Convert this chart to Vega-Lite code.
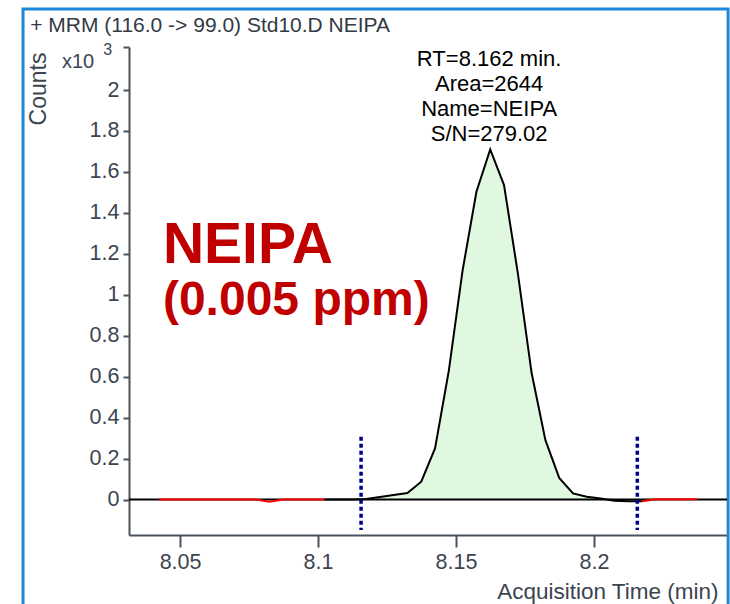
{
  "$schema": "https://vega.github.io/schema/vega-lite/v6.json",
  "width": 598,
  "height": 488,
  "autosize": {"type": "none"},
  "padding": {"left": 129, "top": 47, "right": 3, "bottom": 69},
  "background": "white",
  "config": {"view": {"stroke": null}, "font": "Liberation Sans", "axis": {"grid": false}},
  "datasets": {
    "signal": [
      {"t": 8.0424, "counts": 0, "trace": "noise1"},
      {"t": 8.0474, "counts": 0, "trace": "noise1"},
      {"t": 8.0524, "counts": 0, "trace": "noise1"},
      {"t": 8.0574, "counts": 0, "trace": "noise1"},
      {"t": 8.0624, "counts": 0, "trace": "noise1"},
      {"t": 8.0674, "counts": 0, "trace": "noise1"},
      {"t": 8.0724, "counts": 0, "trace": "noise1"},
      {"t": 8.0774, "counts": 0, "trace": "noise1"},
      {"t": 8.0824, "counts": -0.011, "trace": "noise1"},
      {"t": 8.0874, "counts": 0, "trace": "noise1"},
      {"t": 8.0924, "counts": 0, "trace": "noise1"},
      {"t": 8.0974, "counts": 0, "trace": "noise1"},
      {"t": 8.1024, "counts": 0, "trace": "noise1"},
      {"t": 8.1024, "counts": 0, "trace": "peak"},
      {"t": 8.1074, "counts": 0, "trace": "peak"},
      {"t": 8.1124, "counts": 0, "trace": "peak"},
      {"t": 8.1174, "counts": 0.003, "trace": "peak"},
      {"t": 8.1224, "counts": 0.012, "trace": "peak"},
      {"t": 8.1274, "counts": 0.022, "trace": "peak"},
      {"t": 8.1324, "counts": 0.032, "trace": "peak"},
      {"t": 8.1374, "counts": 0.087, "trace": "peak"},
      {"t": 8.1424, "counts": 0.25, "trace": "peak"},
      {"t": 8.1474, "counts": 0.63, "trace": "peak"},
      {"t": 8.1524, "counts": 1.12, "trace": "peak"},
      {"t": 8.1574, "counts": 1.503, "trace": "peak"},
      {"t": 8.1624, "counts": 1.71, "trace": "peak"},
      {"t": 8.1674, "counts": 1.536, "trace": "peak"},
      {"t": 8.1724, "counts": 1.106, "trace": "peak"},
      {"t": 8.1774, "counts": 0.618, "trace": "peak"},
      {"t": 8.1824, "counts": 0.29, "trace": "peak"},
      {"t": 8.1874, "counts": 0.106, "trace": "peak"},
      {"t": 8.1924, "counts": 0.03, "trace": "peak"},
      {"t": 8.1974, "counts": 0.014, "trace": "peak"},
      {"t": 8.2024, "counts": 0.005, "trace": "peak"},
      {"t": 8.2074, "counts": -0.006, "trace": "peak"},
      {"t": 8.2124, "counts": -0.008, "trace": "peak"},
      {"t": 8.2174, "counts": -0.008, "trace": "peak"},
      {"t": 8.2174, "counts": -0.008, "trace": "noise2"},
      {"t": 8.2224, "counts": 0.002, "trace": "noise2"},
      {"t": 8.2274, "counts": 0.002, "trace": "noise2"},
      {"t": 8.2324, "counts": 0.002, "trace": "noise2"},
      {"t": 8.2374, "counts": 0.002, "trace": "noise2"}
    ],
    "markers": [{"t": 8.1156}, {"t": 8.2157}],
    "peak": [{"rt": 8.162, "area": 2644, "name": "NEIPA", "sn": 279.02}]
  },
  "layer": [
    {
      "data": {"values": [{}]},
      "mark": {"type": "rect", "filled": false, "stroke": "#1E88D8", "strokeWidth": 3},
      "encoding": {
        "x": {"datum": 7.9931, "type": "quantitative", "scale": {"domain": [8.0315, 8.2482], "nice": false, "zero": false},
          "axis": {"values": [8.05, 8.1, 8.15, 8.2], "format": ".2~f", "title": "Acquisition Time (min)", "titleAnchor": "end", "titleAlign": "right", "titleX": 589, "titleY": 63, "titleBaseline": "alphabetic", "titleFontSize": 22.5, "titleFontWeight": "normal", "titleColor": "#3c4450", "labelFontSize": 21.5, "labelColor": "#3c4450", "labelPadding": 4, "tickSize": 12, "tickWidth": 2, "tickColor": "#4a525c", "domainColor": "#4a525c", "domainWidth": 2, "labelFlush": false}},
        "x2": {"datum": 8.2486},
        "y": {"datum": 2.3956, "type": "quantitative", "scale": {"domain": [-0.173, 2.21], "nice": false, "zero": false},
          "axis": {"values": [0, 0.2, 0.4, 0.6, 0.8, 1, 1.2, 1.4, 1.6, 1.8, 2, 2.21], "format": ".1~f", "labelExpr": "datum.value > 2.1 ? '' : datum.label", "title": "Counts", "titleAngle": 270, "titleAlign": "right", "titleBaseline": "middle", "titleX": -91, "titleY": 5, "titleFontSize": 23, "titleFontWeight": "normal", "titleColor": "#3c4450", "labelFontSize": 21.5, "labelColor": "#3c4450", "labelPadding": 4, "tickSize": 6, "tickWidth": 2, "tickColor": "#4a525c", "domainColor": "#4a525c", "domainWidth": 2}},
        "y2": {"datum": -0.8}
      }
    },
    {
      "data": {"values": [{}]},
      "mark": {"type": "text", "text": "+ MRM (116.0 -> 99.0) Std10.D NEIPA", "align": "left", "baseline": "alphabetic", "fontSize": 21, "color": "#333a44"},
      "encoding": {
        "x": {"datum": 7.9957, "type": "quantitative", "scale": {"domain": [8.0315, 8.2482], "nice": false, "zero": false}},
        "y": {"datum": 2.2833, "type": "quantitative", "scale": {"domain": [-0.173, 2.21], "nice": false, "zero": false}}
      }
    },
    {
      "data": {"name": "signal"},
      "transform": [{"filter": "datum.trace == 'peak' && datum.t >= 8.117 && datum.t <= 8.213"}],
      "mark": {"type": "area", "color": "#E0F8E0", "opacity": 1},
      "encoding": {
        "x": {"field": "t", "type": "quantitative", "scale": {"domain": [8.0315, 8.2482], "nice": false, "zero": false}},
        "y": {"field": "counts", "type": "quantitative", "scale": {"domain": [-0.173, 2.21], "nice": false, "zero": false}},
        "y2": {"datum": 0}
      }
    },
    {
      "data": {"values": [{}]},
      "mark": {"type": "rule", "color": "#000000", "strokeWidth": 2},
      "encoding": {
        "y": {"datum": 0, "type": "quantitative", "scale": {"domain": [-0.173, 2.21], "nice": false, "zero": false}}
      }
    },
    {
      "data": {"name": "signal"},
      "mark": {"type": "line", "strokeWidth": 2},
      "encoding": {
        "x": {"field": "t", "type": "quantitative", "scale": {"domain": [8.0315, 8.2482], "nice": false, "zero": false}},
        "y": {"field": "counts", "type": "quantitative", "scale": {"domain": [-0.173, 2.21], "nice": false, "zero": false}},
        "color": {"field": "trace", "type": "nominal", "scale": {"domain": ["noise1", "peak", "noise2"], "range": ["#FF0000", "#000000", "#FF0000"]}, "legend": null}
      }
    },
    {
      "data": {"name": "markers"},
      "mark": {"type": "rule", "color": "#00008B", "strokeWidth": 3.5, "strokeDash": [4, 3]},
      "encoding": {
        "x": {"field": "t", "type": "quantitative", "scale": {"domain": [8.0315, 8.2482], "nice": false, "zero": false}},
        "y": {"datum": 0.307, "type": "quantitative", "scale": {"domain": [-0.173, 2.21], "nice": false, "zero": false}},
        "y2": {"datum": -0.149}
      }
    },
    {
      "data": {"name": "peak"},
      "mark": {"type": "text", "text": ["RT=8.162 min.", "Area=2644", "Name=NEIPA", "S/N=279.02"], "align": "center", "baseline": "alphabetic", "fontSize": 22, "lineHeight": 25, "color": "#000000"},
      "encoding": {
        "x": {"field": "rt", "type": "quantitative", "scale": {"domain": [8.0315, 8.2482], "nice": false, "zero": false}},
        "y": {"datum": 2.119, "type": "quantitative", "scale": {"domain": [-0.173, 2.21], "nice": false, "zero": false}}
      }
    },
    {
      "data": {"name": "peak"},
      "mark": {"type": "text", "text": "NEIPA", "align": "left", "baseline": "alphabetic", "fontSize": 57, "fontWeight": "bold", "color": "#C00000"},
      "encoding": {
        "x": {"datum": 8.0438, "type": "quantitative", "scale": {"domain": [8.0315, 8.2482], "nice": false, "zero": false}},
        "y": {"datum": 1.155, "type": "quantitative", "scale": {"domain": [-0.173, 2.21], "nice": false, "zero": false}}
      }
    },
    {
      "data": {"name": "peak"},
      "mark": {"type": "text", "text": "(0.005 ppm)", "align": "left", "baseline": "alphabetic", "fontSize": 48, "fontWeight": "bold", "color": "#C00000"},
      "encoding": {
        "x": {"datum": 8.0438, "type": "quantitative", "scale": {"domain": [8.0315, 8.2482], "nice": false, "zero": false}},
        "y": {"datum": 0.9, "type": "quantitative", "scale": {"domain": [-0.173, 2.21], "nice": false, "zero": false}}
      }
    },
    {
      "data": {"values": [{}]},
      "mark": {"type": "text", "text": "x10", "align": "left", "baseline": "alphabetic", "fontSize": 20, "color": "#3c4450"},
      "encoding": {
        "x": {"datum": 8.0072, "type": "quantitative", "scale": {"domain": [8.0315, 8.2482], "nice": false, "zero": false}},
        "y": {"datum": 2.107, "type": "quantitative", "scale": {"domain": [-0.173, 2.21], "nice": false, "zero": false}}
      }
    },
    {
      "data": {"values": [{}]},
      "mark": {"type": "text", "text": "3", "align": "left", "baseline": "alphabetic", "fontSize": 16, "color": "#3c4450"},
      "encoding": {
        "x": {"datum": 8.0222, "type": "quantitative", "scale": {"domain": [8.0315, 8.2482], "nice": false, "zero": false}},
        "y": {"datum": 2.171, "type": "quantitative", "scale": {"domain": [-0.173, 2.21], "nice": false, "zero": false}}
      }
    }
  ]
}
